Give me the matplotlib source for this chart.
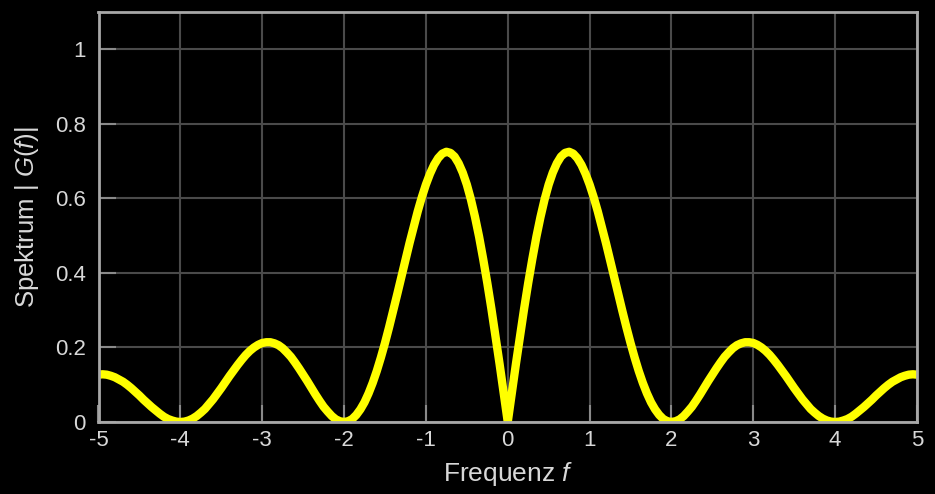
import matplotlib
matplotlib.use("Agg")
import matplotlib.pyplot as plt

# spectrum magnitude for f = 0 ... 5 in steps of 0.05
# (the curve is symmetric about f = 0)
freq_pos = [round(0.05 * i, 2) for i in range(101)]
spectrum_pos = [
    0.000, 0.078, 0.156, 0.231, 0.304, 0.373, 0.437, 0.497, 0.550, 0.597,
    0.637, 0.669, 0.694, 0.712, 0.722, 0.725, 0.720, 0.708, 0.690, 0.666,
    0.637, 0.603, 0.565, 0.523, 0.480, 0.435, 0.389, 0.343, 0.298, 0.254,
    0.212, 0.173, 0.137, 0.105, 0.077, 0.053, 0.034, 0.019, 0.008, 0.002,
    0.000, 0.002, 0.007, 0.016, 0.028, 0.041, 0.057, 0.074, 0.092, 0.110,
    0.127, 0.144, 0.160, 0.175, 0.187, 0.198, 0.206, 0.211, 0.214, 0.214,
    0.212, 0.207, 0.200, 0.191, 0.180, 0.167, 0.153, 0.138, 0.123, 0.107,
    0.091, 0.076, 0.061, 0.048, 0.035, 0.025, 0.016, 0.009, 0.004, 0.001,
    0.000, 0.001, 0.004, 0.008, 0.014, 0.022, 0.031, 0.040, 0.050, 0.060,
    0.071, 0.081, 0.091, 0.100, 0.108, 0.114, 0.120, 0.124, 0.127, 0.128,
    0.127,
]
xticks = [-5, -4, -3, -2, -1, 0, 1, 2, 3, 4, 5]
yticks = [0, 0.2, 0.4, 0.6, 0.8, 1]
ytick_labels = ["0", "0.2", "0.4", "0.6", "0.8", "1"]

# mirror to the negative frequencies
freq = [-f for f in freq_pos[:0:-1]] + freq_pos
spectrum = spectrum_pos[:0:-1] + spectrum_pos

plt.rcParams["font.family"] = ["Liberation Sans", "DejaVu Sans"]
plt.rcParams["mathtext.fontset"] = "custom"
plt.rcParams["mathtext.rm"] = "Liberation Sans"
plt.rcParams["mathtext.it"] = "Liberation Sans:italic"
text_col = "#d8d8d8"

fig = plt.figure(figsize=(9.35, 4.94), dpi=100, facecolor="black")
ax = fig.add_axes([98.5 / 935, 72 / 494, (917 - 98.5) / 935, (422 - 12) / 494])
ax.set_facecolor("black")

ax.plot(freq, spectrum, color="#ffff00", lw=6, solid_capstyle="butt",
        solid_joinstyle="round", zorder=3)

ax.set_xlim(-5, 5)
ax.set_ylim(0, 1.1)
ax.set_xticks(xticks)
ax.set_xticklabels([str(t) for t in xticks])
ax.set_yticks(yticks)
ax.set_yticklabels(ytick_labels)
ax.grid(True, color="#4a4a4a", lw=1.5)
ax.set_axisbelow(True)

for sp in ax.spines.values():
    sp.set_color("#a8a8a8")
    sp.set_linewidth(2)
    sp.set_zorder(4)

ax.tick_params(direction="in", length=12, width=1.5, color="#8a8a8a",
               labelcolor=text_col, labelsize=16, pad=9)
ax.tick_params(axis="x", pad=6)

ax.set_xlabel("Frequenz $f$", color=text_col, fontsize=19, labelpad=6)
ax.set_ylabel("Spektrum | $G(f)$|", color=text_col, fontsize=18.5, labelpad=10)

fig.savefig("out.png", dpi=100, facecolor="black")
